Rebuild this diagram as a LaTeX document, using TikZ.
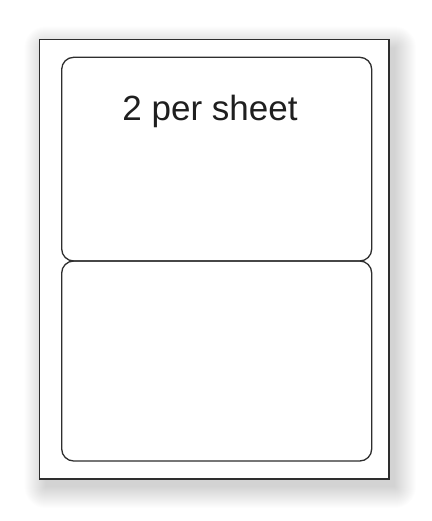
\documentclass[tikz,border=0pt]{standalone}
\usepackage{fontspec}
\setmainfont{Liberation Sans}
\definecolor{edge}{HTML}{2E2E2E}
\tikzset{
  sheet/.style={draw=edge, line width=1.4pt, fill=white, inner sep=0pt, outer sep=0pt},
  shadowlayer/.style={fill=black, fill opacity=0.008, draw=none},
  labelbox/.style={draw=edge, line width=1.3pt, rounded corners=12pt, inner sep=0pt, outer sep=0pt},
  caption/.style={font=\fontsize{35}{40}\selectfont, text=black!88, inner sep=0pt}
}
\begin{document}
\begin{tikzpicture}[x=1pt,y=-1pt]
\useasboundingbox[fill=white] (0,0) rectangle (431,521);
\foreach \i in {0,...,21}{
  \fill[shadowlayer, rounded corners=\i pt+0.1pt] (45.5-\i,47.5-\i) rectangle (395+\i,487+\i);
}
\node[sheet, minimum width=349.5pt, minimum height=439.5pt] (sheet) at (214.25,259.25) {};
\node[labelbox, minimum width=310pt, minimum height=203.7pt] (top) at (216.7,159.15) {};
\node[labelbox, minimum width=310pt, minimum height=200pt] (bottom) at (216.7,361) {};
\node[caption, anchor=base] (cap) at (210,120.7) {2 per sheet};
\end{tikzpicture}
\end{document}
